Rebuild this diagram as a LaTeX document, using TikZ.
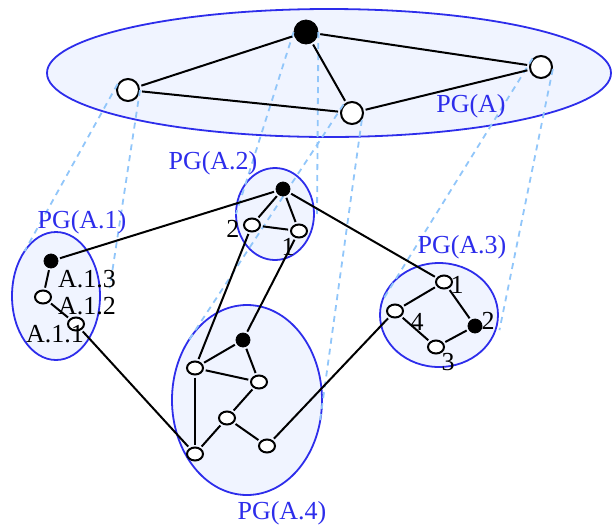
\documentclass[tikz,border=0pt]{standalone}
\usepackage{fontspec}
\setmainfont{Liberation Serif}
\usetikzlibrary{shapes.geometric}

\definecolor{pgblue}{RGB}{45,45,235}
\definecolor{pgfill}{RGB}{240,244,255}
\definecolor{projblue}{RGB}{145,198,250}

\begin{document}
\begin{tikzpicture}[x=0.5pt,y=-0.5pt,font=\fontsize{13}{15}\selectfont,
    pg/.style={ellipse,draw=pgblue,fill=pgfill,line width=0.9pt,inner sep=0pt,outer sep=0pt},
    pglabel/.style={text=pgblue,inner sep=0pt},
    numlabel/.style={inner sep=0pt},
    wbig/.style={circle,draw,fill=white,line width=1pt,minimum size=11pt,inner sep=0pt},
    bbig/.style={circle,draw,fill=black,minimum size=12pt,inner sep=0pt},
    wsmall/.style={ellipse,draw,fill=white,line width=1pt,minimum width=8pt,minimum height=6.5pt,inner sep=0pt},
    bsmall/.style={circle,draw,fill=black,minimum size=7pt,inner sep=0pt},
    proj/.style={draw=projblue,line width=0.9pt,dash pattern=on 3pt off 2.5pt},
    link/.style={line width=1pt,shorten <=1pt,shorten >=1pt}]
  \useasboundingbox (0,0) rectangle (612,526);

  % the five ellipses
  \node[pg,minimum width=282pt,minimum height=64pt] (pga) at (329,73) {};
  \node[pg,minimum width=44pt,minimum height=64pt] (pg1) at (56,296) {};
  \node[pg,minimum width=39pt,minimum height=46pt] (pg2) at (275,214) {};
  \node[pg,minimum width=59pt,minimum height=52pt] (pg3) at (439,315) {};
  \node[pg,minimum width=75pt,minimum height=95pt] (pg4) at (247,400) {};

  % top graph
  \node[wbig] (a1) at (128,90) {};
  \node[bbig] (a2) at (306,32) {};
  \node[wbig] (a3) at (541,67) {};
  \node[wbig] (a4) at (352,113) {};

  % projection lines
  \draw[proj] (a1.150) -- (pg1.125);
  \draw[proj] (a1.0) -- ([xshift=5pt]pg1.10);
  \draw[proj] (a2.180) -- (pg2.180);
  \draw[proj] (a2.0) -- ([xshift=1.5pt]pg2.0);
  \draw[proj] (a3.135) -- (pg3.166);
  \draw[proj] (a3.350) -- ([xshift=2pt]pg3.345);
  \draw[proj] (a4.135) -- (pg4.136);
  \draw[proj] (a4.325) -- (pg4.342);

  % PG(A.1)
  \node[bsmall] (p13) at (51,261) {};
  \node[wsmall] (p12) at (43,297) {};
  \node[wsmall] (p11) at (76,324) {};

  % PG(A.2)
  \node[bsmall] (q0) at (283,189) {};
  \node[wsmall] (q2) at (252,225) {};
  \node[wsmall] (q1) at (299,231) {};

  % PG(A.3)
  \node[wsmall] (r1) at (444,282) {};
  \node[bsmall] (r2) at (475,326) {};
  \node[wsmall] (r3) at (436,347) {};
  \node[wsmall] (r4) at (395,311) {};

  % PG(A.4)
  \node[bsmall] (s0) at (243,340) {};
  \node[wsmall] (s1) at (195,368) {};
  \node[wsmall] (s2) at (259,382) {};
  \node[wsmall] (s3) at (227,418) {};
  \node[wsmall] (s4) at (267,446) {};
  \node[wsmall] (s5) at (195,454) {};

  % edges
  \draw[link] (a1) -- (a2);
  \draw[link] (a2) -- (a3);
  \draw[link] (a2) -- (a4);
  \draw[link] (a1) -- (a4);
  \draw[link] (a4) -- (a3);

  \draw[link] (p13) -- (p12);
  \draw[link] (p12) -- (p11);

  \draw[link] (q0) -- (q2);
  \draw[link] (q0) -- (q1);
  \draw[link] (q2) -- (q1);

  \draw[link] (r1) -- (r4);
  \draw[link] (r4) -- (r3);
  \draw[link] (r3) -- (r2);
  \draw[link] (r2) -- (r1);

  \draw[link] (s0) -- (s1);
  \draw[link] (s0) -- (s2);
  \draw[link] (s1) -- (s2);
  \draw[link] (s1) -- (s5);
  \draw[link] (s2) -- (s3);
  \draw[link] (s3) -- (s5);
  \draw[link] (s3) -- (s4);

  % edges between the parts
  \draw[link] (p13) -- (q0);
  \draw[link] (p11) -- (s5);
  \draw[link] (q2) -- (s1);
  \draw[link] (q1) -- (s0);
  \draw[link] (q0) -- (r1);
  \draw[link] (r4) -- (s4);

  % labels
  \node[pglabel] at (471,106) {PG(A)};
  \node[pglabel] at (82,222) {PG(A.1)};
  \node[pglabel] at (213,163) {PG(A.2)};
  \node[pglabel] at (462,247) {PG(A.3)};
  \node[pglabel] at (282,513) {PG(A.4)};

  \node[numlabel] at (87,279) {A.1.3};
  \node[numlabel] at (87,306) {A.1.2};
  \node[numlabel] at (55,334) {A.1.1};
  \node[numlabel] at (233,229) {2};
  \node[numlabel] at (288,247) {1};
  \node[numlabel] at (457,285) {1};
  \node[numlabel] at (488,321) {2};
  \node[numlabel] at (448,362) {3};
  \node[numlabel] at (417,322) {4};
\end{tikzpicture}
\end{document}
